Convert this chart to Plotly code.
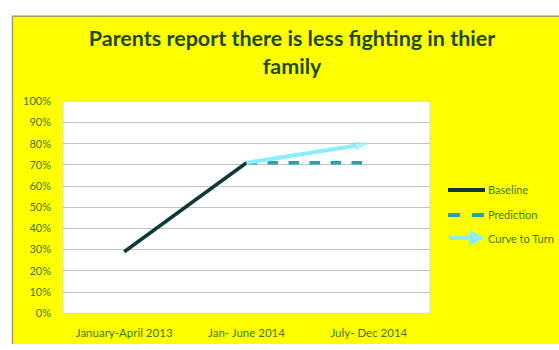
import plotly.graph_objects as go

# Periods on the category axis
periods = ["January-April 2013", "Jan- June 2014", "July- Dec 2014"]

# Share of parents reporting less fighting
baseline_x = ["January-April 2013", "Jan- June 2014"]
baseline_y = [0.29, 0.71]

prediction_x = ["Jan- June 2014", "July- Dec 2014"]
prediction_y = [0.71, 0.71]

curve_x = ["Jan- June 2014", "July- Dec 2014"]
curve_y = [0.71, 0.80]

y_ticks = [0, 0.1, 0.2, 0.3, 0.4, 0.5, 0.6, 0.7, 0.8, 0.9, 1.0]

# Palette
YELLOW = "#ffff00"
DARK = "#0c3a38"
TEAL = "#23a3b2"
CYAN = "#8eeef7"
TITLE_GREEN = "#1f4a1f"
LABEL_GREEN = "#3f7a1e"
EDGE = "#a0a060"
FONT = "Lato, 'Open Sans', sans-serif"

# Figure size and plot-area edges in pixels; margins are zero so that
# paper coordinates cover the whole figure.
W, H = 559, 350
L, R, T, B = 63, 430, 98, 318


def px_x(px):
    return px / W


def px_y(py):
    return 1 - py / H


fig = go.Figure()

fig.add_trace(go.Scatter(
    x=baseline_x, y=baseline_y, mode="lines",
    line=dict(color=DARK, width=3.5), name="Baseline", showlegend=False,
))
fig.add_trace(go.Scatter(
    x=prediction_x, y=prediction_y, mode="lines",
    line=dict(color=TEAL, width=3.5, dash="dash"), name="Prediction",
    showlegend=False,
))
fig.add_trace(go.Scatter(
    x=curve_x, y=curve_y, mode="lines+markers",
    line=dict(color=CYAN, width=4),
    marker=dict(symbol="arrow", angleref="previous", size=[0, 15],
                color=CYAN, line=dict(width=0)),
    name="Curve to Turn", showlegend=False,
))

shapes = []
annotations = []

# Yellow chart card on a white page, with a thin olive edge at top and left
shapes.append(dict(type="rect", xref="paper", yref="paper", layer="below",
                   x0=px_x(12), x1=1, y0=0, y1=px_y(9),
                   fillcolor=YELLOW, line=dict(width=0)))
shapes.append(dict(type="line", xref="paper", yref="paper",
                   x0=px_x(12), x1=1, y0=px_y(9.5), y1=px_y(9.5),
                   line=dict(color=EDGE, width=1.5)))
shapes.append(dict(type="line", xref="paper", yref="paper",
                   x0=px_x(12.5), x1=px_x(12.5), y0=0, y1=px_y(9),
                   line=dict(color=EDGE, width=1.5)))
# White plot area with a faint grey frame
shapes.append(dict(type="rect", xref="paper", yref="paper", layer="below",
                   x0=px_x(L), x1=px_x(R), y0=px_y(B), y1=px_y(T),
                   fillcolor="white", line=dict(color="#d6d6d6", width=1)))

# Hand-drawn legend on the right
leg_x0, leg_x1, leg_tx = px_x(448), px_x(485), px_x(486)
LEG_FONT = dict(family=FONT, size=11, color=LABEL_GREEN)
rows = [
    ("Baseline", px_y(190), dict(color=DARK, width=4)),
    ("Prediction", px_y(216), dict(color=TEAL, width=4, dash="dash")),
]
for label, yy, ln in rows:
    shapes.append(dict(type="line", xref="paper", yref="paper",
                       x0=leg_x0, x1=leg_x1, y0=yy, y1=yy, line=ln))
    annotations.append(dict(xref="paper", yref="paper", x=leg_tx, y=yy,
                            text=label, showarrow=False, xanchor="left",
                            yanchor="middle", font=LEG_FONT))

yy = px_y(240)
annotations.append(dict(xref="paper", yref="paper", axref="pixel", ayref="pixel",
                        x=leg_x1, y=yy, ax=-37, ay=0, text="",
                        showarrow=True, arrowhead=2, arrowsize=0.8,
                        arrowwidth=4, arrowcolor=CYAN))
annotations.append(dict(xref="paper", yref="paper", x=leg_tx, y=yy,
                        text="Curve to Turn", showarrow=False, xanchor="left",
                        yanchor="middle", font=LEG_FONT))

fig.update_layout(
    width=W, height=H,
    margin=dict(l=0, r=0, t=0, b=0),
    paper_bgcolor="white",
    plot_bgcolor="white",
    showlegend=False,
    title=dict(
        text="<b>Parents report there is less fighting in thier<br>family</b>",
        x=292 / W, xanchor="center", y=1 - 46 / H, yanchor="top",
        font=dict(family=FONT, size=21.5, color=TITLE_GREEN),
    ),
    xaxis=dict(
        domain=[px_x(L), px_x(R)],
        type="category", categoryorder="array", categoryarray=periods,
        range=[-0.5, 2.5], showgrid=False, zeroline=False,
        showline=False, ticks="", ticklabelstandoff=11,
        tickfont=dict(family=FONT, size=11.5, color=LABEL_GREEN),
    ),
    yaxis=dict(
        domain=[px_y(B), px_y(T)],
        range=[0, 1], tickvals=y_ticks, tickformat=".0%",
        showgrid=True, gridcolor="#c4c4c4", gridwidth=1,
        zeroline=False, showline=False, ticks="", ticklabelstandoff=11,
        tickfont=dict(family=FONT, size=11, color=LABEL_GREEN),
    ),
    shapes=shapes,
    annotations=annotations,
)

fig.write_html("out.html")
